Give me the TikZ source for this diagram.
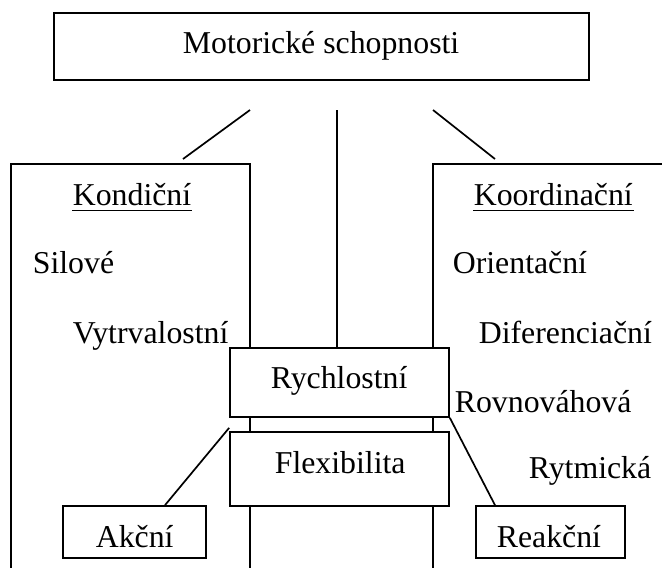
\documentclass[tikz,border=0pt]{standalone}
\usepackage{fontspec}
\setmainfont{Liberation Serif}
\begin{document}
\begin{tikzpicture}[x=1pt,y=-1pt,line width=1.7pt,
  box/.style={draw,fill=white,rectangle,inner sep=0pt},
  lbl/.style={anchor=base west,inner sep=0pt,font=\fontsize{31.8}{38}\selectfont}]
\clip (0,0) rectangle (662,568);
\fill[white] (0,0) rectangle (662,568);
% side frames (open at bottom)
\draw (11,580) -- (11,164) -- (250,164) -- (250,580);
\draw (433,580) -- (433,164) -- (680,164);
% boxes
\node[box,minimum width=535pt,minimum height=67pt] (top) at (321.5,46.5) {};
\node[box,minimum width=219pt,minimum height=69pt] (rych) at (339.5,382.5) {};
\node[box,minimum width=219pt,minimum height=74pt] (flex) at (339.5,469) {};
\node[box,minimum width=143pt,minimum height=52pt] (akc) at (134.5,532) {};
\node[box,minimum width=149pt,minimum height=52pt] (reak) at (550.5,532) {};
% texts
\node[lbl] (tmot) at (182,53) {Motorické schopnosti};
\node[lbl] (tkond) at (72,205) {Kondiční};
\node[lbl] (tsil) at (32,273) {Silové};
\node[lbl] (tvytr) at (72,343) {Vytrvalostní};
\node[lbl] (tkoor) at (473,205) {Koordinační};
\node[lbl] (tori) at (452,273) {Orientační};
\node[lbl] (tdif) at (478,343) {Diferenciační};
\node[lbl] (trov) at (454,412) {Rovnováhová};
\node[lbl] (tryt) at (528,478) {Rytmická};
\node[lbl] (trych) at (270,388) {Rychlostní};
\node[lbl] (tflex) at (274,473) {Flexibilita};
\node[lbl] (takc) at (95,547) {Akční};
\node[lbl] (treak) at (496,547) {Reakční};
% underlines
\draw ([yshift=-5.5pt]tkond.base west) -- ([yshift=-5.5pt]tkond.base east);
\draw ([yshift=-5.5pt]tkoor.base west) -- ([yshift=-5.5pt]tkoor.base east);
% connectors
\coordinate (l1) at (250,110);
\coordinate (l2) at (183,159);
\coordinate (r1) at (433,110);
\coordinate (r2) at (495,159);
\coordinate (c1) at (337,110);
\draw (l1) -- (l2);
\draw (r1) -- (r2);
\draw (c1) -- (c1 |- rych.north);
\draw ([yshift=-10pt]rych.south west) -- (akc.north west -| 165,0);
\draw (rych.south east) -- (reak.north west -| 495,0);
\end{tikzpicture}
\end{document}
